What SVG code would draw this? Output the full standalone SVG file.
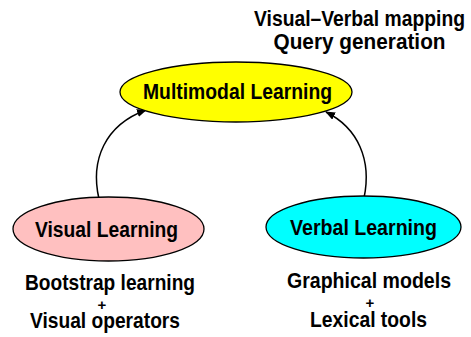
<svg xmlns="http://www.w3.org/2000/svg" width="471" height="337" viewBox="0 0 471 337">
<style>
.t{font-family:"Liberation Sans",Arial,sans-serif;font-weight:bold;font-size:22.5px;fill:#000;text-anchor:middle}
.p{font-family:"Liberation Sans",Arial,sans-serif;font-weight:bold;font-size:15px;fill:#000;text-anchor:middle}
.n{stroke:#000;stroke-width:1.3}
.e{fill:none;stroke:#000;stroke-width:1.5}
</style>
<defs>
<marker id="ah" markerWidth="10" markerHeight="8" refX="9" refY="4" orient="auto" markerUnits="userSpaceOnUse">
<path d="M0,0 L10,4 L0,8 Z" fill="#000"/>
</marker>
</defs>
<rect width="471" height="337" fill="#fff"/>
<g id="connectors">
<path class="e" d="M99,199 C90,160 105,125 146,110" marker-end="url(#ah)"/>
<path class="e" d="M364,198 C372,160 358,128 326,112" marker-end="url(#ah)"/>
</g>
<g id="multimodal">
<ellipse class="n" cx="236" cy="92" rx="116" ry="30" fill="#ffff00"/>
<text class="t" transform="translate(237.5,99) scale(0.86,1)" textLength="219.8" lengthAdjust="spacingAndGlyphs">Multimodal Learning</text>
</g>
<g id="visual">
<ellipse class="n" cx="108.5" cy="229" rx="95.5" ry="32" fill="#ffc0c0"/>
<text class="t" transform="translate(106.5,237) scale(0.86,1)" textLength="166.3" lengthAdjust="spacingAndGlyphs">Visual Learning</text>
</g>
<g id="verbal">
<ellipse class="n" cx="363.5" cy="227" rx="97.5" ry="31" fill="#00ffff"/>
<text class="t" transform="translate(363.5,235) scale(0.86,1)" textLength="170.9" lengthAdjust="spacingAndGlyphs">Verbal Learning</text>
</g>
<g id="top-note">
<text class="t" transform="translate(359.5,26) scale(0.86,1)" textLength="245.3" lengthAdjust="spacingAndGlyphs">Visual–Verbal mapping</text>
<text class="t" transform="translate(359.5,49) scale(0.86,1)" textLength="200" lengthAdjust="spacingAndGlyphs">Query generation</text>
</g>
<g id="visual-note">
<text class="t" transform="translate(110,290) scale(0.86,1)" textLength="197.7" lengthAdjust="spacingAndGlyphs">Bootstrap learning</text>
<text class="p" x="102" y="310">+</text>
<text class="t" transform="translate(105,328) scale(0.86,1)" textLength="174.4" lengthAdjust="spacingAndGlyphs">Visual operators</text>
</g>
<g id="verbal-note">
<text class="t" transform="translate(369,288) scale(0.86,1)" textLength="190.7" lengthAdjust="spacingAndGlyphs">Graphical models</text>
<text class="p" x="370" y="308">+</text>
<text class="t" transform="translate(368.5,327) scale(0.86,1)" textLength="136" lengthAdjust="spacingAndGlyphs">Lexical tools</text>
</g>
</svg>
